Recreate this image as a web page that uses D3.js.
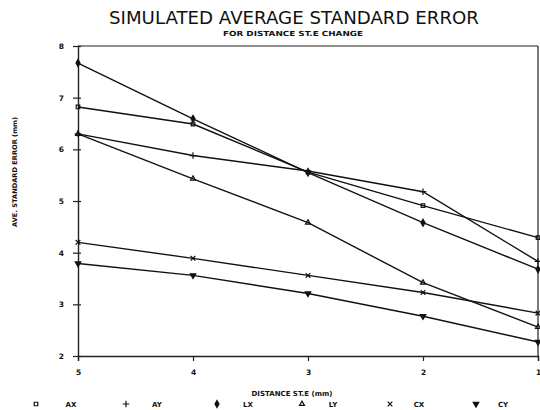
<!DOCTYPE html>
<html>
<head>
<meta charset="utf-8">
<script src="https://cdn.jsdelivr.net/npm/d3@7"></script>
<style>
  body { margin: 0; background: #fff; }
  text { font-family: "DejaVu Sans", sans-serif; fill: #111; }
</style>
</head>
<body>
<div id="chart"></div>
<script>
// distance steps (x axis runs from 5 down to 1)
const distance = [5, 4, 3, 2, 1];
const xTicks = [5, 4, 3, 2, 1];
const yTicks = [2, 3, 4, 5, 6, 7, 8];

// average standard error per series (mm)
const AX = [6.82, 6.49, 5.56, 4.91, 4.29];
const AY = [6.30, 5.88, 5.58, 5.18, 3.83];
const LX = [7.67, 6.59, 5.55, 4.58, 3.68];
const LY = [6.30, 5.43, 4.58, 3.42, 2.56];
const CX = [4.20, 3.89, 3.56, 3.23, 2.83];
const CY = [3.79, 3.56, 3.21, 2.77, 2.27];

const seriesNames = ["AX", "AY", "LX", "LY", "CX", "CY"];
const seriesValues = [AX, AY, LX, LY, CX, CY];

const width = 540, height = 410;
const svg = d3.select("#chart").append("svg")
    .attr("width", width)
    .attr("height", height);

const x = d3.scaleLinear().domain([5, 1]).range([78, 538]);
const y = d3.scaleLinear().domain([2, 8]).range([356, 46]);

// title
svg.append("text")
    .attr("x", 294).attr("y", 24)
    .attr("text-anchor", "middle")
    .attr("font-size", 17)
    .attr("fill", "#222")
    .attr("textLength", 370)
    .attr("lengthAdjust", "spacingAndGlyphs")
    .text("SIMULATED AVERAGE STANDARD ERROR");

svg.append("text")
    .attr("x", 293).attr("y", 36)
    .attr("text-anchor", "middle")
    .attr("font-size", 7)
    .attr("font-weight", "bold")
    .attr("textLength", 140)
    .attr("lengthAdjust", "spacingAndGlyphs")
    .text("FOR DISTANCE ST.E CHANGE");

// frame: top and right lines
svg.append("line")
    .attr("x1", x(5)).attr("x2", x(1))
    .attr("y1", y(8)).attr("y2", y(8))
    .attr("stroke", "#222").attr("stroke-width", 1.2);
svg.append("line")
    .attr("x1", x(1)).attr("x2", x(1))
    .attr("y1", y(8)).attr("y2", y(2))
    .attr("stroke", "#222").attr("stroke-width", 1.2);

// x axis
const xAxis = svg.append("g")
    .attr("transform", `translate(0,${y(2)})`)
    .call(d3.axisBottom(x).tickValues(xTicks).tickFormat(d3.format("d"))
        .tickSize(5).tickPadding(9));
xAxis.select(".domain").attr("stroke", "#222").attr("stroke-width", 1.4);
xAxis.selectAll(".tick line").attr("stroke", "#222").attr("stroke-width", 1.2);
xAxis.selectAll(".tick text")
    .attr("font-family", "DejaVu Sans")
    .attr("font-size", 7.5).attr("font-weight", "bold").attr("fill", "#111");

// y axis
const yAxis = svg.append("g")
    .attr("transform", `translate(${x(5)},0)`)
    .call(d3.axisLeft(y).tickValues(yTicks).tickFormat(d3.format("d"))
        .tickSizeInner(5).tickSizeOuter(0).tickPadding(9));
yAxis.select(".domain").attr("stroke", "#222").attr("stroke-width", 1.4);
yAxis.selectAll(".tick line").attr("stroke", "#222").attr("stroke-width", 1.2)
    .attr("x1", 3);
yAxis.selectAll(".tick text")
    .attr("font-family", "DejaVu Sans")
    .attr("font-size", 7.5).attr("font-weight", "bold").attr("fill", "#111");

// axis titles
svg.append("text")
    .attr("x", 292).attr("y", 396)
    .attr("text-anchor", "middle")
    .attr("font-size", 7).attr("font-weight", "bold")
    .text("DISTANCE ST.E (mm)");

svg.append("text")
    .attr("transform", "translate(17,172) rotate(-90)")
    .attr("text-anchor", "middle")
    .attr("font-size", 6.5).attr("font-weight", "bold")
    .attr("textLength", 110)
    .attr("lengthAdjust", "spacingAndGlyphs")
    .text("AVE. STANDARD ERROR (mm)");

// marker for each series
const markers = {
  AX: { type: d3.symbolSquare2, size: 16, fill: "none", rot: 0 },
  AY: { type: d3.symbolPlus, size: 16, fill: "none", rot: 0 },
  LX: { type: d3.symbolDiamond, size: 14, fill: "#111", rot: 0 },
  LY: { type: d3.symbolTriangle2, size: 18, fill: "none", rot: 0 },
  CX: { type: d3.symbolTimes, size: 16, fill: "none", rot: 0 },
  CY: { type: d3.symbolTriangle, size: 13, fill: "#111", rot: 180 }
};

const line = d3.line()
    .x((d, i) => x(distance[i]))
    .y(d => y(d));

seriesNames.forEach((name, k) => {
  const vals = seriesValues[k];
  const m = markers[name];
  svg.append("path")
      .datum(vals)
      .attr("d", line)
      .attr("fill", "none")
      .attr("stroke", "#111")
      .attr("stroke-width", 1.4);

  svg.selectAll(".pt-" + name)
      .data(vals)
    .enter().append("path")
      .attr("class", "pt-" + name)
      .attr("transform", (d, i) => `translate(${x(distance[i])},${y(d)}) rotate(${m.rot})`)
      .attr("d", d3.symbol().type(m.type).size(m.size))
      .attr("fill", m.fill)
      .attr("stroke", "#111")
      .attr("stroke-width", 1.2);
});

// legend along the bottom
const legendMarkX = [36, 126, 217, 302, 390, 476];
const legendTextX = [71, 157, 248, 333, 419, 503];
seriesNames.forEach((name, k) => {
  const m = markers[name];
  svg.append("path")
      .attr("transform", `translate(${legendMarkX[k]},404) rotate(${m.rot})`)
      .attr("d", d3.symbol().type(m.type).size(m.size))
      .attr("fill", m.fill)
      .attr("stroke", "#111")
      .attr("stroke-width", 1.2);
  svg.append("text")
      .attr("x", legendTextX[k]).attr("y", 407)
      .attr("text-anchor", "middle")
      .attr("font-size", 7).attr("font-weight", "bold")
      .text(name);
});
</script>
</body>
</html>
